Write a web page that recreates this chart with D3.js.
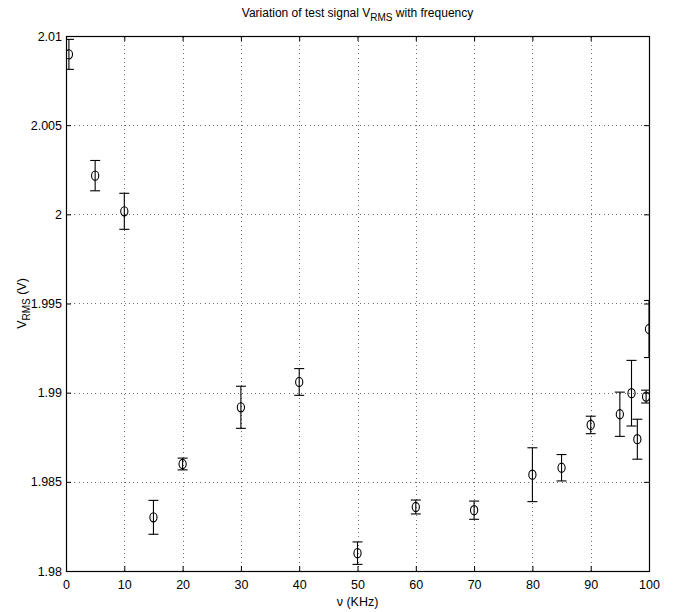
<!DOCTYPE html>
<html>
<head>
<meta charset="utf-8">
<script src="https://cdn.jsdelivr.net/npm/d3@7"></script>
<style>
  html, body { margin: 0; padding: 0; background: #fff; }
  svg { display: block; font-family: "Liberation Sans", Arial, Helvetica, sans-serif; }
</style>
</head>
<body>
<svg id="chart" width="678" height="612"></svg>
<script>
// Test-signal RMS voltage measured at each frequency, with its uncertainty
const freqKHz = [0.5, 5, 10, 15, 20, 30, 40, 50, 60, 70, 80, 85, 90, 95, 97, 98, 99.5, 100];
const vrms    = [2.00897, 2.00217, 2.00017, 1.98301, 1.98600, 1.98918, 1.99060, 1.98100, 1.98359,
                 1.98341, 1.98540, 1.98579, 1.98819, 1.98879, 1.98997, 1.98739, 1.98978, 1.99357];
const vrmsErr = [0.00084, 0.00085, 0.00101, 0.00095, 0.00033, 0.00118, 0.00075, 0.00063, 0.00039,
                 0.00051, 0.00151, 0.00074, 0.00049, 0.00124, 0.00184, 0.00112, 0.00036, 0.00160];

const xTicks = [0, 10, 20, 30, 40, 50, 60, 70, 80, 90, 100];
const yTicks = [1.98, 1.985, 1.99, 1.995, 2, 2.005, 2.01];

const points = freqKHz.map((f, i) => ({ f, v: vrms[i], e: vrmsErr[i] }));

const svg = d3.select("#chart");
const plotL = 66, plotR = 649, plotT = 36, plotB = 571;

const x = d3.scaleLinear().domain([0, 100]).range([plotL, plotR]);
const y = d3.scaleLinear().domain([1.98, 2.01]).range([plotB, plotT]);

const tickLen = 5;
const fmt = d => String(+d.toFixed(3));

// dotted grid
const grid = svg.append("g").attr("stroke", "#707070").attr("stroke-width", 1)
  .attr("stroke-dasharray", "1,3.2").attr("shape-rendering", "crispEdges");
grid.selectAll("line.gx").data(xTicks.slice(1, -1)).join("line")
  .attr("x1", d => Math.round(x(d)) + 0.5).attr("x2", d => Math.round(x(d)) + 0.5)
  .attr("y1", plotB).attr("y2", plotT);
grid.selectAll("line.gy").data(yTicks.slice(1, -1)).join("line")
  .attr("y1", d => Math.round(y(d)) + 0.5).attr("y2", d => Math.round(y(d)) + 0.5)
  .attr("x1", plotL).attr("x2", plotR);

// axes: inward ticks on all four sides, labels on bottom and left
const axB = d3.axisBottom(x).tickValues(xTicks).tickSizeInner(-tickLen).tickSizeOuter(0).tickPadding(9).tickFormat(fmt);
const axT = d3.axisTop(x).tickValues(xTicks).tickSizeInner(-tickLen).tickSizeOuter(0).tickFormat("");
const axL = d3.axisLeft(y).tickValues(yTicks).tickSizeInner(-tickLen).tickSizeOuter(0).tickPadding(4).tickFormat(fmt);
const axR = d3.axisRight(y).tickValues(yTicks).tickSizeInner(-tickLen).tickSizeOuter(0).tickFormat("");

function style(g) {
  g.select(".domain").remove();
  g.selectAll(".tick line").attr("stroke", "#000");
  g.selectAll(".tick text").attr("fill", "#000").attr("font-size", 12.5)
    .attr("font-family", "'Liberation Sans', Arial, sans-serif");
}
svg.append("g").attr("transform", `translate(0,${plotB})`).call(axB).call(style);
svg.append("g").attr("transform", `translate(0,${plotT})`).call(axT).call(style);
svg.append("g").attr("transform", `translate(${plotL},0)`).call(axL).call(style);
svg.append("g").attr("transform", `translate(${plotR},0)`).call(axR).call(style);

// axes box
svg.append("rect").attr("x", plotL + 0.5).attr("y", plotT + 0.5)
  .attr("width", plotR - plotL).attr("height", plotB - plotT)
  .attr("fill", "none").attr("stroke", "#000").attr("stroke-width", 1.2);

// error bars and markers, clipped to the axes
svg.append("clipPath").attr("id", "plotclip").append("rect")
  .attr("x", plotL).attr("y", plotT).attr("width", plotR - plotL + 1).attr("height", plotB - plotT + 1);

const capW = 5;
const marks = svg.append("g").attr("clip-path", "url(#plotclip)");
const eb = marks.selectAll("g.eb").data(points).join("g")
  .attr("stroke", "#000").attr("stroke-width", 1.1).attr("fill", "none");
eb.append("line")
  .attr("x1", d => x(d.f)).attr("x2", d => x(d.f))
  .attr("y1", d => y(d.v - d.e)).attr("y2", d => y(d.v + d.e));
eb.append("line")
  .attr("x1", d => x(d.f) - capW).attr("x2", d => x(d.f) + capW)
  .attr("y1", d => y(d.v + d.e)).attr("y2", d => y(d.v + d.e));
eb.append("line")
  .attr("x1", d => x(d.f) - capW).attr("x2", d => x(d.f) + capW)
  .attr("y1", d => y(d.v - d.e)).attr("y2", d => y(d.v - d.e));
eb.append("ellipse")
  .attr("cx", d => x(d.f)).attr("cy", d => y(d.v))
  .attr("rx", 3.6).attr("ry", 4.6).attr("fill", "none");

// title
const title = svg.append("text").attr("x", (plotL + plotR) / 2).attr("y", 17)
  .attr("text-anchor", "middle").attr("font-size", 12);
title.append("tspan").text("Variation of test signal V");
title.append("tspan").attr("font-size", 10).attr("dy", 4).text("RMS");
title.append("tspan").attr("dy", -4).text(" with frequency");

// x label
svg.append("text").attr("x", (plotL + plotR) / 2).attr("y", 606)
  .attr("text-anchor", "middle").attr("font-size", 12.5).text("ν (KHz)");

// y label
const yl = svg.append("text").attr("transform", `translate(26,${(plotT + plotB) / 2}) rotate(-90)`)
  .attr("text-anchor", "middle").attr("font-size", 12.5);
yl.append("tspan").text("V");
yl.append("tspan").attr("font-size", 10).attr("dy", 4).text("RMS");
yl.append("tspan").attr("dy", -4).text(" (V)");
</script>
</body>
</html>
